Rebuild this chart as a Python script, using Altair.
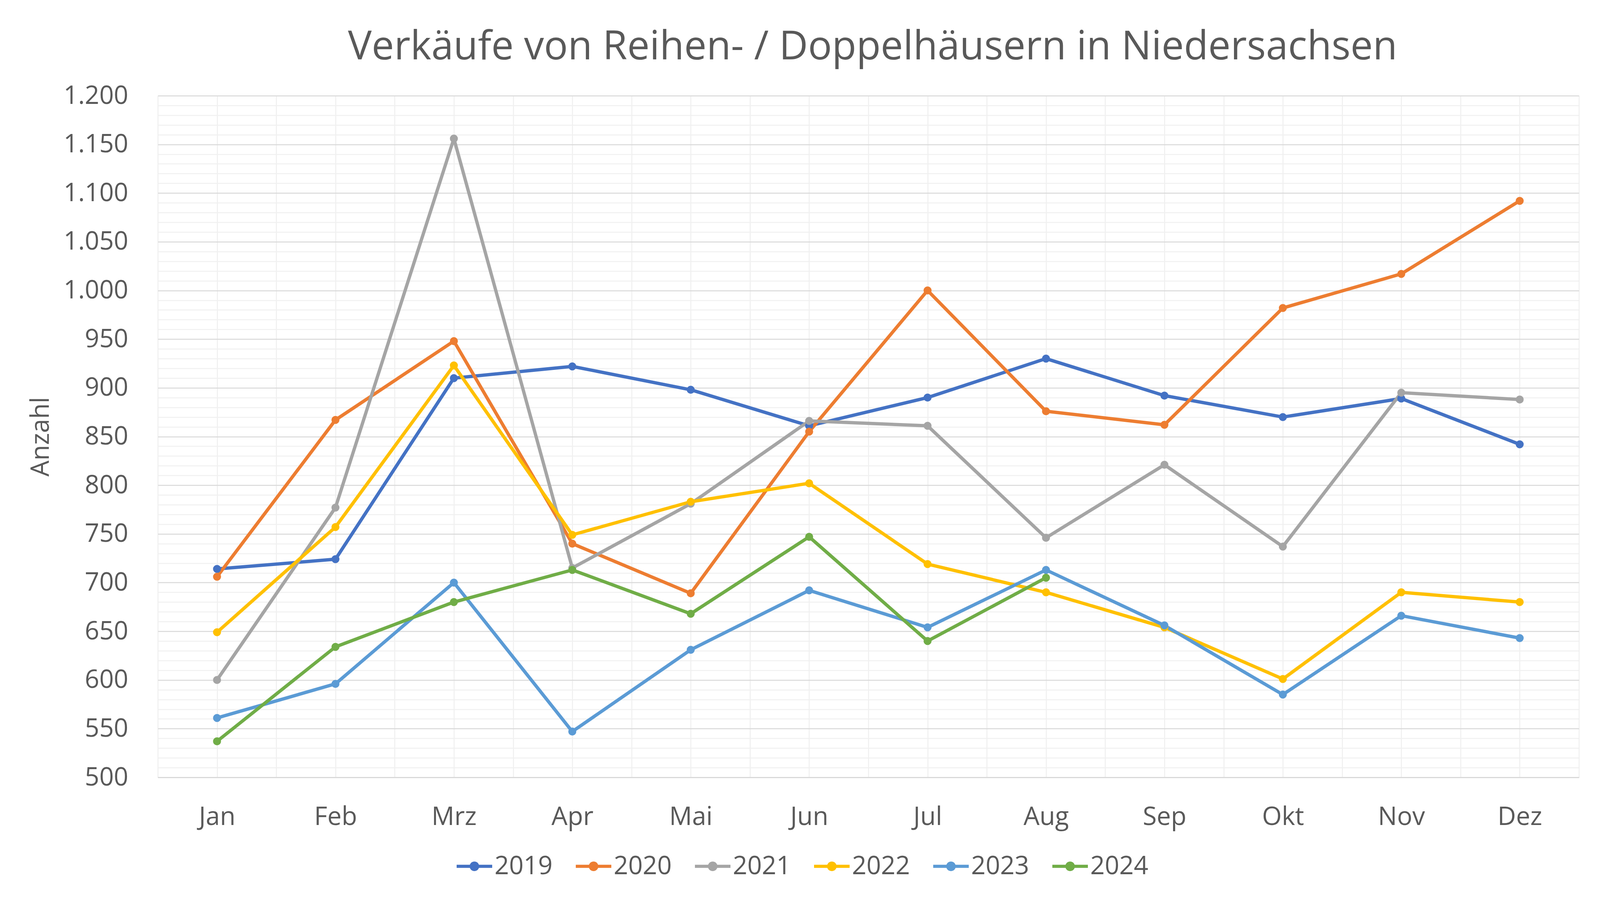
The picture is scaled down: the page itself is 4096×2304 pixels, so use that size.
import altair as alt
import pandas as pd

months = ["Jan", "Feb", "Mrz", "Apr", "Mai", "Jun", "Jul", "Aug", "Sep", "Okt", "Nov", "Dez"]
years = ["2019", "2020", "2021", "2022", "2023", "2024"]
colors = ["#4472C4", "#ED7D31", "#A5A5A5", "#FFC000", "#5B9BD5", "#70AD47"]

v2019 = [714, 724, 910, 922, 898, 861, 890, 930, 892, 870, 889, 842]
v2020 = [706, 867, 948, 740, 689, 855, 1000, 876, 862, 982, 1017, 1092]
v2021 = [600, 777, 1156, 715, 781, 866, 861, 746, 821, 737, 895, 888]
v2022 = [649, 757, 923, 749, 783, 802, 719, 690, 654, 601, 690, 680]
v2023 = [561, 596, 700, 547, 631, 692, 654, 713, 656, 585, 666, 643]
v2024 = [537, 634, 680, 713, 668, 747, 640, 705]

series = [v2019, v2020, v2021, v2022, v2023, v2024]
rows = []
for y, vals in zip(years, series):
    for i, v in enumerate(vals):
        rows.append({"Jahr": y, "pos": i + 0.5, "Monat": months[i], "Anzahl": v})
df = pd.DataFrame(rows)

TXT = "#595959"
FONT = "Open Sans"
W, H = 3638, 1745
L, T = 404, 245

month_js = "[" + ",".join("'" + m + "'" for m in months) + "]"
x_vals = [i * 0.5 for i in range(25)]
y_vals = list(range(500, 1201, 10))

x = alt.X(
    "pos:Q",
    scale=alt.Scale(domain=[0, 12], nice=False, zero=False),
    axis=alt.Axis(
        values=x_vals,
        labelExpr="(datum.value % 1 === 0.5) ? " + month_js + "[floor(datum.value)] : ''",
        title=None,
        ticks=False,
        tickSize=0,
        labelPadding=70,
        labelOverlap=False,
        labelBound=False,
        labelFlush=False,
        labelFont=FONT,
        labelFontSize=65,
        labelColor=TXT,
        grid=True,
        gridColor="#EFEFEF",
        gridWidth=2.5,
        domain=True,
        domainColor="#D9D9D9",
        domainWidth=3,
    ),
)
y = alt.Y(
    "Anzahl:Q",
    scale=alt.Scale(domain=[500, 1200], nice=False, zero=False),
    axis=alt.Axis(
        values=y_vals,
        labelExpr="(datum.value % 50 === 0) ? replace(format(datum.value, ','), ',', '.') : ''",
        title="Anzahl",
        titleFont=FONT,
        titleFontSize=65,
        titleFontWeight="normal",
        titleColor=TXT,
        titleX=-300,
        titleY=H / 2,
        titleAngle=-90,
        titleAlign="center",
        titleBaseline="middle",
        ticks=False,
        tickSize=0,
        labelPadding=76,
        labelOverlap=False,
        labelBound=False,
        labelFlush=False,
        labelFont=FONT,
        labelFontSize=65,
        labelColor=TXT,
        labelBaseline="middle",
        grid=True,
        gridColor={"condition": {"test": "datum.value % 50 === 0", "value": "#D9D9D9"}, "value": "#F0F0F0"},
        gridWidth=2.5,
        domain=False,
    ),
)

sym = ("M-1,-0.09 L1,-0.09 L1,0.09 L-1,0.09 Z "
       "M-0.27,0 A0.27,0.27 0 1,1 0.27,0 A0.27,0.27 0 1,1 -0.27,0 Z")

legend = alt.Legend(
    title=None,
    orient="none",
    direction="horizontal",
    legendX=765,
    legendY=1927,
    symbolType=sym,
    symbolSize=8281,
    symbolStrokeWidth=0,
    symbolOpacity=1,
    labelFont=FONT,
    labelFontSize=65,
    labelColor=TXT,
    labelOffset=6,
    columnPadding=59,
    labelLimit=400,
)

color = alt.Color("Jahr:N", scale=alt.Scale(domain=years, range=colors), legend=legend)

base = alt.Chart(df)
lines = base.mark_line(strokeWidth=8.5, strokeCap="round", strokeJoin="round").encode(
    x=x, y=y, color=color, detail="Jahr:N"
)
points = base.mark_point(filled=True, size=420, opacity=1, shape="circle").encode(
    x=x, y=y, color=color
)

chart = alt.layer(lines, points).properties(
    width=W,
    height=H,
    autosize=alt.AutoSizeParams(type="none"),
    padding={"left": L - 8, "top": T - 8, "right": 40, "bottom": 290},
    title=alt.Title(
        "Verkäufe von Reihen- / Doppelhäusern in Niedersachsen",
        font=FONT,
        fontSize=102,
        fontWeight="normal",
        color=TXT,
        anchor="middle",
        baseline="alphabetic",
        offset=-41,
        dx=11,
    ),
).configure_view(stroke=None).configure(background="white")

chart.save("out.html", embed_options={"renderer": "svg", "actions": False})
